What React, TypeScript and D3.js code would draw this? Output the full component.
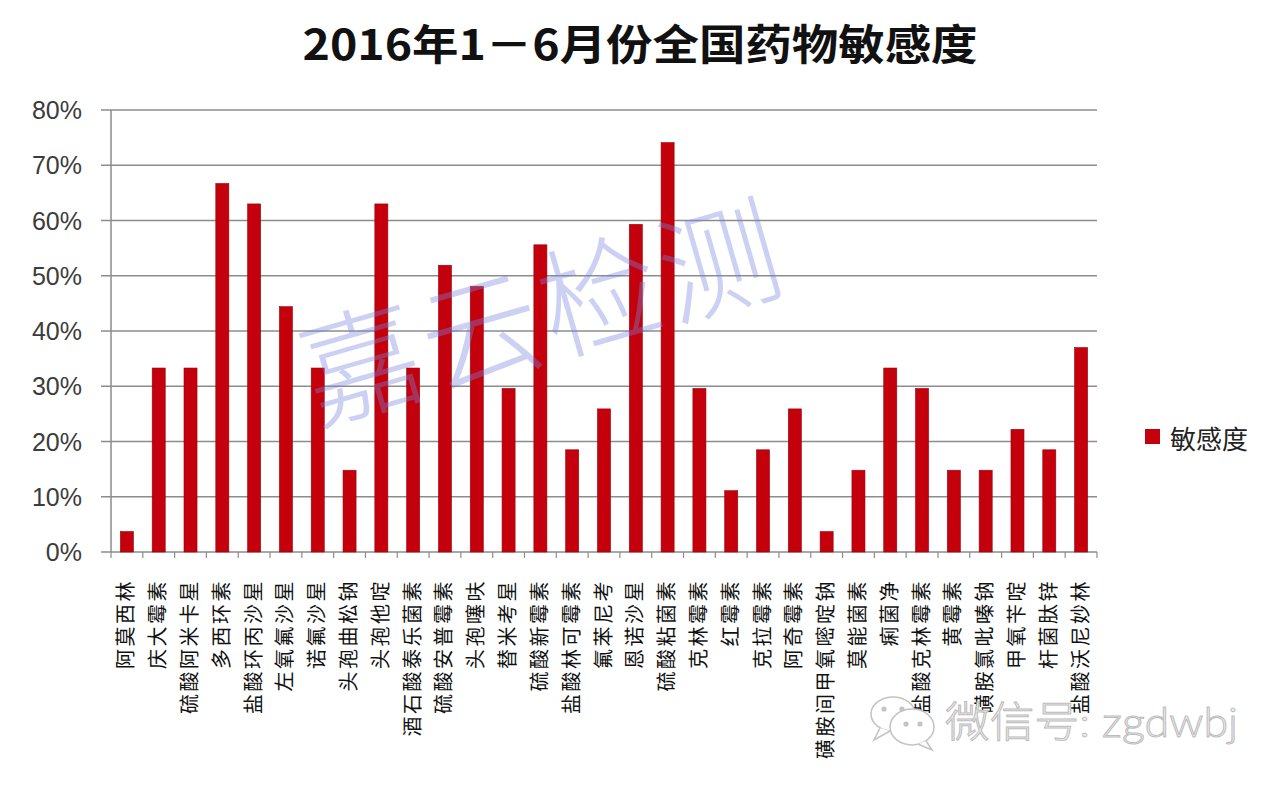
import React from "react";
import * as d3 from "d3";

const title = "2016年1－6月份全国药物敏感度";
const seriesName = "敏感度";
const categories = [
  "阿莫西林", "庆大霉素", "硫酸阿米卡星", "多西环素", "盐酸环丙沙星", "左氧氟沙星",
  "诺氟沙星", "头孢曲松钠", "头孢他啶", "酒石酸泰乐菌素", "硫酸安普霉素", "头孢噻呋",
  "替米考星", "硫酸新霉素", "盐酸林可霉素", "氟苯尼考", "恩诺沙星", "硫酸粘菌素",
  "克林霉素", "红霉素", "克拉霉素", "阿奇霉素", "磺胺间甲氧嘧啶钠", "莫能菌素",
  "痢菌净", "盐酸克林霉素", "黄霉素", "磺胺氯吡嗪钠", "甲氧苄啶", "杆菌肽锌", "盐酸沃尼妙林",
];
const values = [
  0.037, 0.333, 0.333, 0.667, 0.63, 0.444,
  0.333, 0.148, 0.63, 0.333, 0.519, 0.481,
  0.296, 0.556, 0.185, 0.259, 0.593, 0.741,
  0.296, 0.111, 0.185, 0.259, 0.037, 0.148,
  0.333, 0.296, 0.148, 0.148, 0.222, 0.185, 0.37,
];
const yTicks = [0, 0.1, 0.2, 0.3, 0.4, 0.5, 0.6, 0.7, 0.8];
const watermark = "嘉云检测";
const wechatText = "微信号: zgdwbj";

const W = 1280;
const H = 787;
const left = 111;
const right = 1097;
const top = 110;
const bottom = 552;
const BAR = "#c3000b";
const GRID = "#8c8c8c";
const CJK = "'Noto Sans CJK SC', 'Noto Sans', sans-serif";

export default function App() {
  const x = d3.scaleBand<string>().domain(categories).range([left, right]).paddingInner(0.59).paddingOuter(0.295);
  const y = d3.scaleLinear().domain([0, 0.8]).range([bottom, top]);
  const fmt = d3.format(".0%");
  const gap = (x.step() - x.bandwidth()) / 2;
  const boundaries = categories.map((c) => (x(c) as number) - gap).concat([right]);

  return (
    <svg width={W} height={H} style={{ position: "absolute", left: 0, top: 0, background: "#fff" }}>
      <rect x={0} y={0} width={W} height={H} fill="#fff" />
      <text x={640} y={60} textAnchor="middle" fontFamily={CJK} fontWeight={700} fontSize={42} fill="#111"
        textLength={675} lengthAdjust="spacingAndGlyphs">{title}</text>

      {yTicks.map((t) => (
        <g key={t}>
          <line x1={left - 10} x2={right} y1={y(t)} y2={y(t)} stroke={GRID} strokeWidth={1.5} />
          <text x={82} y={y(t)} textAnchor="end" dominantBaseline="central"
            fontFamily="'Liberation Sans', Arial, sans-serif" fontSize={25} fill="#3c3c3c">{fmt(t)}</text>
        </g>
      ))}
      <line x1={left} x2={left} y1={top} y2={bottom} stroke={GRID} strokeWidth={1.5} />
      {boundaries.map((b, i) => (
        <line key={i} x1={b} x2={b} y1={bottom} y2={bottom + 6} stroke={GRID} strokeWidth={1.2} />
      ))}

      {categories.map((c, i) => (
        <rect key={c} x={x(c)} y={y(values[i])} width={x.bandwidth()} height={bottom - y(values[i])}
          fill={BAR} stroke="#9e0008" strokeWidth={0.6} />
      ))}

      {categories.map((c) => (
        <text key={c} transform={`translate(${(x(c) as number) + x.bandwidth() / 2 - 2},${579}) rotate(-90)`}
          textAnchor="end" dominantBaseline="central" fontFamily={CJK} fontSize={20} letterSpacing={2.5} fill="#111">{c}</text>
      ))}

      <text transform="translate(540,305) rotate(-16)" textAnchor="middle" dominantBaseline="central"
        fontFamily={CJK} fontWeight={300} fontSize={120} fill="rgb(120,135,225)" fillOpacity={0.38}
        letterSpacing={4}>{watermark}</text>

      <rect x={1145} y={429} width={15} height={15} fill={BAR} />
      <text x={1170} y={437} dominantBaseline="central" fontFamily={CJK} fontSize={26} fill="#222">{seriesName}</text>

      <g fill="#fff" stroke="#c4c4c4" strokeWidth={1.6}>
        <ellipse cx={893} cy={714} rx={22} ry={17} />
        <path d="M880,728 L874,740 L890,731" />
        <ellipse cx={912} cy={727} rx={22} ry={18} />
        <path d="M926,741 L932,750 L918,744" />
        <circle cx={884} cy={709} r={1.8} fill="#c4c4c4" />
        <circle cx={902} cy={709} r={1.8} fill="#c4c4c4" />
        <circle cx={906} cy={724} r={1.8} fill="#c4c4c4" />
        <circle cx={920} cy={724} r={1.8} fill="#c4c4c4" />
      </g>
      <text x={945} y={737} fontFamily="Lato, 'Noto Sans CJK SC', sans-serif" fontWeight={300} fontSize={42}
        fill="#efefef" stroke="#bdbdbd" strokeWidth={1} textLength={293} lengthAdjust="spacingAndGlyphs">{wechatText}</text>
    </svg>
  );
}
